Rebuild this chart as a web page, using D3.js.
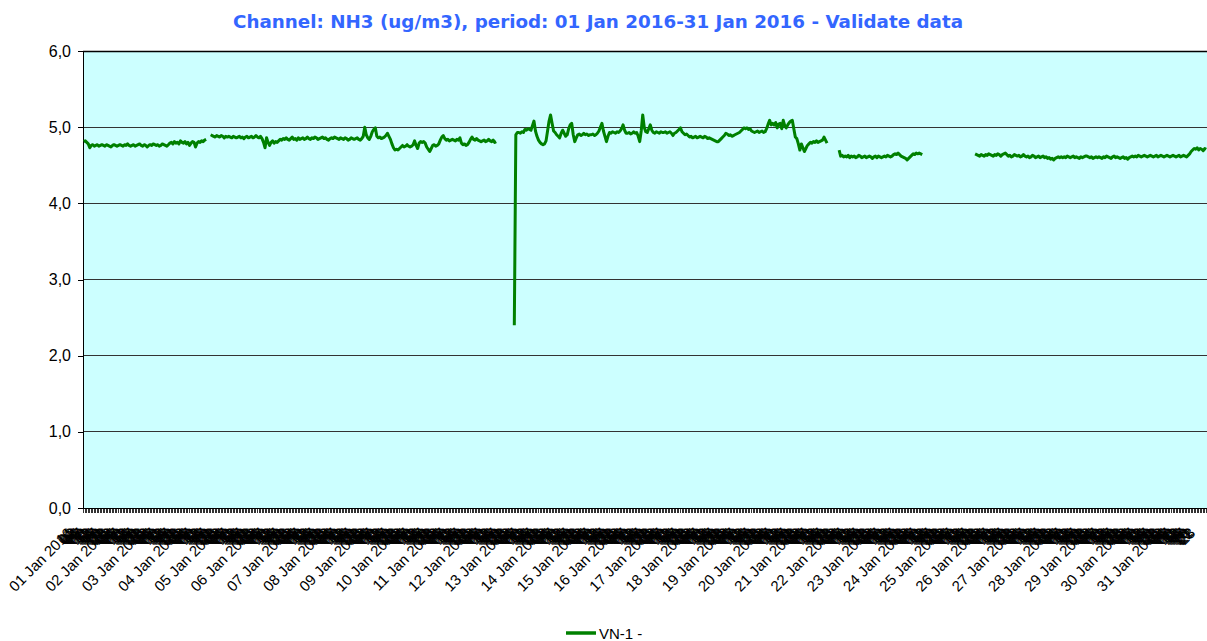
<!DOCTYPE html>
<meta charset="utf-8">
<style>
body { margin: 0; background: #fff; }
svg { display: block; font-family: "Liberation Sans", Arial, sans-serif; }
.axis path, .axis line { stroke: #000; shape-rendering: crispEdges; }
.grid line { stroke: #333; shape-rendering: crispEdges; }
</style>
<body>
<svg width="1207" height="641"></svg>
<script src="https://cdn.jsdelivr.net/npm/d3@7"></script>
<script>
// day labels (shown at 00:00) and hour labels
var days = ["01 Jan 2016","02 Jan 2016","03 Jan 2016","04 Jan 2016","05 Jan 2016","06 Jan 2016","07 Jan 2016",
  "08 Jan 2016","09 Jan 2016","10 Jan 2016","11 Jan 2016","12 Jan 2016","13 Jan 2016","14 Jan 2016","15 Jan 2016",
  "16 Jan 2016","17 Jan 2016","18 Jan 2016","19 Jan 2016","20 Jan 2016","21 Jan 2016","22 Jan 2016","23 Jan 2016",
  "24 Jan 2016","25 Jan 2016","26 Jan 2016","27 Jan 2016","28 Jan 2016","29 Jan 2016","30 Jan 2016","31 Jan 2016"];
var hours = ["00","01","02","03","04","05","06","07","08","09","10","11","12","13","14","15","16","17","18","19","20","21","22","23"];
var yTicks = [0, 1, 2, 3, 4, 5, 6];

var N = null;
// hourly NH3 (ug/m3), one row per day
var nh3 = [
  [4.81,4.82,4.80,4.78,4.73,4.76,4.77,4.75,4.76,4.77,4.75,4.76,4.77,4.76,4.75,4.77,4.76,4.75,4.74,4.76,4.77,4.76,4.75,4.76],
  [4.77,4.76,4.75,4.77,4.76,4.78,4.76,4.75,4.76,4.77,4.75,4.76,4.77,4.78,4.76,4.75,4.77,4.76,4.74,4.76,4.77,4.76,4.78,4.77],
  [4.76,4.77,4.75,4.76,4.78,4.77,4.76,4.75,4.77,4.79,4.80,4.78,4.81,4.79,4.80,4.78,4.82,4.80,4.79,4.81,4.78,4.80,4.76,4.79],
  [4.81,4.80,4.74,4.79,4.81,4.80,4.82,4.81,4.83,4.84,N,N,4.90,4.89,4.88,4.87,4.89,4.88,4.87,4.89,4.88,4.86,4.88,4.87],
  [4.88,4.87,4.86,4.88,4.87,4.86,4.87,4.88,4.86,4.87,4.85,4.87,4.88,4.86,4.87,4.88,4.86,4.87,4.89,4.87,4.86,4.88,4.85,4.80],
  [4.73,4.86,4.80,4.76,4.80,4.82,4.79,4.81,4.80,4.82,4.84,4.83,4.85,4.84,4.86,4.84,4.83,4.85,4.87,4.84,4.85,4.83,4.86,4.84],
  [4.85,4.86,4.84,4.85,4.87,4.85,4.84,4.86,4.85,4.87,4.86,4.84,4.85,4.86,4.87,4.85,4.86,4.84,4.83,4.85,4.86,4.85,4.87,4.86],
  [4.85,4.84,4.86,4.85,4.84,4.86,4.85,4.83,4.84,4.86,4.85,4.84,4.85,4.86,4.84,4.83,4.85,4.88,5.00,4.90,4.86,4.84,4.88,4.94],
  [4.97,4.99,4.88,4.86,4.87,4.85,4.86,4.87,4.89,4.92,4.88,4.84,4.78,4.73,4.70,4.71,4.70,4.72,4.74,4.76,4.74,4.75,4.77,4.75],
  [4.74,4.75,4.77,4.82,4.76,4.72,4.79,4.81,4.80,4.81,4.79,4.74,4.71,4.68,4.72,4.76,4.77,4.75,4.76,4.78,4.83,4.87,4.89,4.85],
  [4.83,4.84,4.82,4.83,4.84,4.83,4.82,4.84,4.83,4.86,4.79,4.77,4.78,4.76,4.77,4.80,4.84,4.87,4.84,4.83,4.85,4.83,4.82,4.81],
  [4.82,4.83,4.81,4.82,4.84,4.82,4.81,4.83,4.80,4.81,N,N,N,N,N,N,N,N,N,N,N,2.40,4.90,4.93],
  [4.93,4.92,4.94,4.93,4.97,4.96,4.98,4.97,4.96,5.02,5.08,4.95,4.88,4.83,4.80,4.78,4.77,4.78,4.82,4.95,5.08,5.16,5.05,4.95],
  [4.93,4.90,4.88,4.86,4.92,4.96,4.92,4.88,4.90,4.98,5.03,5.05,4.90,4.81,4.86,4.90,4.91,4.89,4.90,4.92,4.90,4.91,4.89,4.90],
  [4.90,4.91,4.89,4.90,4.92,4.95,5.00,5.05,4.95,4.88,4.81,4.88,4.93,4.92,4.94,4.93,4.92,4.94,4.93,4.95,4.98,5.03,4.96,4.92],
  [4.92,4.93,4.91,4.92,4.94,4.92,4.93,4.88,4.81,4.95,5.16,5.00,4.94,4.93,4.98,5.03,4.96,4.93,4.92,4.94,4.93,4.92,4.94,4.93],
  [4.93,4.94,4.92,4.93,4.94,4.92,4.89,4.92,4.93,4.95,4.97,4.99,4.94,4.92,4.90,4.91,4.89,4.87,4.88,4.86,4.87,4.88,4.86,4.87],
  [4.88,4.87,4.86,4.88,4.87,4.85,4.86,4.85,4.84,4.83,4.82,4.81,4.81,4.83,4.85,4.87,4.89,4.92,4.91,4.89,4.90,4.88,4.89,4.90],
  [4.91,4.92,4.93,4.95,4.97,4.99,4.98,4.99,4.97,4.98,4.95,4.94,4.93,4.94,4.95,4.93,4.94,4.95,4.93,4.94,4.98,5.04,5.09,5.03],
  [5.05,5.03,5.06,4.99,5.04,5.05,4.98,5.09,5.02,4.99,5.03,5.06,5.08,5.09,4.98,4.87,4.85,4.78,4.70,4.78,4.73,4.68,4.72,4.76],
  [4.78,4.80,4.79,4.81,4.80,4.82,4.80,4.81,4.82,4.83,4.87,4.83,4.79,N,N,N,N,N,N,N,4.70,4.62,4.63,4.61],
  [4.62,4.61,4.63,4.60,4.62,4.61,4.62,4.60,4.61,4.63,4.62,4.60,4.61,4.62,4.60,4.61,4.62,4.61,4.59,4.61,4.62,4.60,4.62,4.61],
  [4.60,4.61,4.62,4.61,4.63,4.62,4.61,4.62,4.64,4.65,4.64,4.66,4.64,4.62,4.61,4.60,4.59,4.57,4.59,4.61,4.63,4.65,4.64,4.66],
  [4.65,4.66,4.65,4.64,N,N,N,N,N,N,N,N,N,N,N,N,N,N,N,N,N,N,N,N],
  [N,N,N,N,N,N,N,N,N,N,N,N,N,N,4.65,4.64,4.63,4.62,4.64,4.63,4.62,4.64,4.63,4.65],
  [4.64,4.63,4.62,4.64,4.63,4.65,4.64,4.62,4.64,4.65,4.66,4.64,4.62,4.63,4.61,4.62,4.64,4.63,4.62,4.63,4.61,4.62,4.64,4.62],
  [4.61,4.62,4.60,4.61,4.63,4.62,4.60,4.61,4.62,4.60,4.61,4.62,4.60,4.61,4.59,4.60,4.58,4.59,4.57,4.59,4.60,4.61,4.60,4.61],
  [4.60,4.61,4.60,4.62,4.61,4.60,4.61,4.62,4.60,4.61,4.60,4.59,4.61,4.60,4.61,4.62,4.62,4.61,4.60,4.61,4.59,4.60,4.61,4.60],
  [4.61,4.60,4.59,4.61,4.60,4.62,4.61,4.60,4.59,4.61,4.62,4.60,4.61,4.60,4.59,4.60,4.61,4.59,4.60,4.58,4.60,4.61,4.62,4.61],
  [4.62,4.61,4.63,4.62,4.61,4.62,4.63,4.62,4.61,4.62,4.63,4.62,4.61,4.62,4.63,4.61,4.62,4.63,4.62,4.61,4.62,4.63,4.62,4.61],
  [4.62,4.63,4.62,4.61,4.62,4.63,4.61,4.62,4.63,4.62,4.61,4.63,4.65,4.68,4.70,4.72,4.71,4.73,4.70,4.72,4.71,4.69,4.72,4.71]
];

// flatten to hourly records
var data = [];
nh3.forEach(function(row, d) {
  row.forEach(function(v, h) {
    data.push({ i: d * 24 + h, label: h === 0 ? days[d] : hours[h], value: v });
  });
});

var svg = d3.select("svg"),
    margin = {top: 51, right: 0, bottom: 133, left: 83},
    width = +svg.attr("width") - margin.left - margin.right,
    height = +svg.attr("height") - margin.top - margin.bottom;

var x = d3.scaleBand().domain(data.map(function(d) { return d.i; })).range([0, width]).padding(0),
    y = d3.scaleLinear().domain([0, 6]).range([height, 0]);

var g = svg.append("g").attr("transform", "translate(" + margin.left + "," + margin.top + ")");

// plot background
g.append("rect").attr("width", width).attr("height", height).attr("fill", "#ccffff");

// gridlines
g.append("g").attr("class", "grid")
  .selectAll("line").data(yTicks.filter(function(t) { return t > 0; }))
  .enter().append("line")
    .attr("x1", 0).attr("x2", width)
    .attr("y1", function(t) { return y(t); }).attr("y2", function(t) { return y(t); });

// top border
g.append("line").attr("x1", 0).attr("x2", width).attr("y1", 0.5).attr("y2", 0.5)
  .attr("stroke", "#000").attr("stroke-width", 1.5);

var comma = function(t) { return d3.format(".1f")(t).replace(".", ","); };

g.append("g").attr("class", "axis axis--y")
  .call(d3.axisLeft(y).tickValues(yTicks).tickFormat(comma).tickSize(5).tickSizeOuter(0).tickPadding(7))
  .selectAll("text")
    .style("font-size", "16px").attr("fill", "#000");

var xAxis = g.append("g").attr("class", "axis axis--x")
  .attr("transform", "translate(0," + height + ")")
  .call(d3.axisBottom(x).tickFormat(function(i) { return data[i].label; }).tickSize(5).tickSizeOuter(0));

xAxis.selectAll(".tick line").attr("stroke-width", 0.8);
xAxis.selectAll("text")
    .attr("x", 0).attr("y", 0).attr("dy", 0)
    .attr("transform", "translate(-10,26) rotate(-45)")
    .style("text-anchor", "end")
    .style("font-size", "15px")
    .attr("fill", "#000");
// first label sits on top of the crowded hour labels
xAxis.select(".tick").raise();

// series
var line = d3.line()
  .defined(function(d) { return d.value != null; })
  .x(function(d) { return x(d.i) + x.bandwidth() / 2; })
  .y(function(d) { return y(d.value); });

g.append("path").datum(data)
  .attr("fill", "none")
  .attr("stroke", "#008000")
  .attr("stroke-width", 3)
  .attr("stroke-linejoin", "round")
  .attr("d", line);

// title
svg.append("text")
  .attr("x", 598).attr("y", 28)
  .attr("text-anchor", "middle")
  .attr("textLength", 730).attr("lengthAdjust", "spacingAndGlyphs")
  .style("font-family", "'DejaVu Sans', Verdana, sans-serif")
  .style("font-weight", "bold").style("font-size", "17px")
  .attr("fill", "#3366ff")
  .text("Channel: NH3 (ug/m3), period: 01 Jan 2016-31 Jan 2016 - Validate data");

// legend
var legend = svg.append("g").attr("transform", "translate(566,633)");
legend.append("line").attr("x1", 0).attr("x2", 30).attr("y1", 0).attr("y2", 0)
  .attr("stroke", "#008000").attr("stroke-width", 3.5);
legend.append("text").attr("x", 33).attr("y", 5.5).style("font-size", "15px").text("VN-1 -");
</script>
</body>
